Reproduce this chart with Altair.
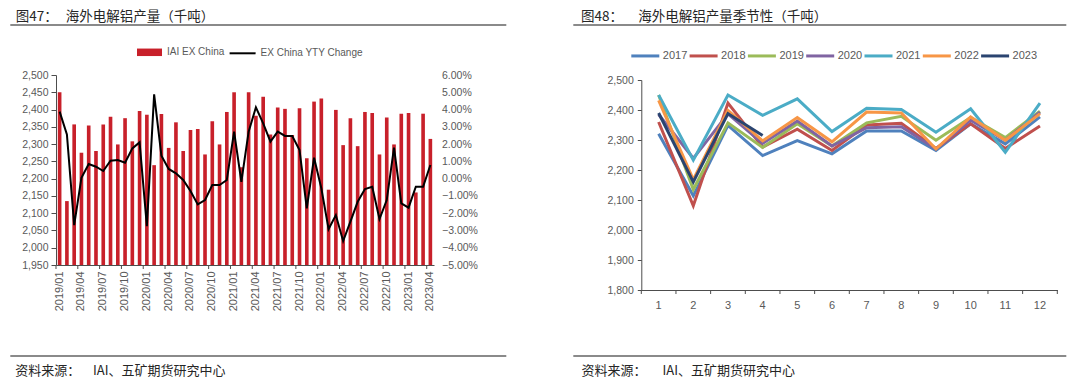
import altair as alt
import pandas as pd

# ---------------- data ----------------
months = [f"{y}/{m:02d}" for y in range(2019, 2024) for m in range(1, 13)][:52]
tick_months = months[::3]

iai_ex_china = [2450, 2135, 2357, 2275, 2354, 2280, 2357, 2379, 2299, 2375, 2308, 2396,
                2385, 2239, 2387, 2289, 2363, 2280, 2341, 2344, 2270, 2366, 2299, 2393,
                2450, 2233, 2450, 2382, 2437, 2328, 2406, 2402, 2326, 2404, 2259, 2423,
                2432, 2168, 2399, 2297, 2375, 2294, 2393, 2390, 2270, 2377, 2299, 2388,
                2390, 2160, 2388, 2315]

yoy_change_pct = [3.88, 2.56, -2.69, 0.05, 0.85, 0.69, 0.44, 1.04, 1.08, 0.92, 1.75, 2.10,
                  -2.75, 4.88, 1.33, 0.56, 0.31, -0.08, -0.72, -1.49, -1.24, -0.37, -0.37, -0.08,
                  2.72, -0.18, 2.72, 4.13, 3.20, 2.14, 2.72, 2.47, 2.47, 1.66, -1.72, 1.21,
                  -0.56, -2.92, -2.11, -3.61, -2.49, -1.34, -0.60, -0.47, -2.34, -1.24, 1.79, -1.43,
                  -1.68, -0.47, -0.47, 0.79]

season_months = list(range(1, 13))
s2017 = [2321, 2114, 2349, 2248, 2298, 2254, 2330, 2330, 2265, 2354, 2287, 2377]
s2018 = [2360, 2081, 2423, 2276, 2336, 2265, 2350, 2356, 2272, 2354, 2272, 2347]
s2019 = [2450, 2135, 2357, 2275, 2354, 2280, 2357, 2379, 2299, 2375, 2308, 2396]
s2020 = [2385, 2239, 2387, 2289, 2363, 2280, 2341, 2344, 2270, 2366, 2299, 2393]
s2021 = [2450, 2233, 2450, 2382, 2437, 2328, 2406, 2402, 2326, 2404, 2259, 2423]
s2022 = [2432, 2168, 2399, 2297, 2375, 2294, 2393, 2390, 2270, 2377, 2299, 2388]
s2023 = [2390, 2160, 2388, 2315]
years = ["2017", "2018", "2019", "2020", "2021", "2022", "2023"]
year_colors = ["#4F81BD", "#C0504D", "#9BBB59", "#8064A2", "#4BACC6", "#F79646", "#2A4470"]

left_ticks = [1950, 2000, 2050, 2100, 2150, 2200, 2250, 2300, 2350, 2400, 2450, 2500]
pct_ticks = [-0.05, -0.04, -0.03, -0.02, -0.01, 0.0, 0.01, 0.02, 0.03, 0.04, 0.05, 0.06]
right_ticks = [1800, 1900, 2000, 2100, 2200, 2300, 2400, 2500]

bar_name = "IAI EX China"
line_name = "EX China YTY Change"
title1_a, title1_b = "图47：", "海外电解铝产量（千吨）"
title2_a, title2_b = "图48：", "海外电解铝产量季节性（千吨）"
source_a, source_b = "资料来源：", "IAI、五矿期货研究中心"

# ---------------- styles ----------------
RED = "#C8202A"
AX = "#4d4d4d"
LAB = "#595959"
TXT = "#262626"
SEP = "#8a8a8a"
CJK = "Noto Sans CJK SC"

df1 = pd.DataFrame({"month": months, "prod": iai_ex_china,
                    "yoy": [v / 100 for v in yoy_change_pct]})
df1["sb"] = bar_name
df1["sl"] = line_name

rows = []
for yr, vals in zip(years, [s2017, s2018, s2019, s2020, s2021, s2022, s2023]):
    for m, v in zip(season_months, vals):
        rows.append({"year": yr, "month": m, "value": v})
df2 = pd.DataFrame(rows)

one = pd.DataFrame({"a": [0]})


def text_layer(txt, x, y, size, color=TXT, font=CJK):
    return alt.Chart(one).mark_text(align="left", baseline="middle", fontSize=size,
                                    font=font, color=color).encode(
        x=alt.value(x), y=alt.value(y), text=alt.value(txt))


def hrule(x1, x2, y, color=SEP, sw=2, opacity=1):
    return alt.Chart(one).mark_rule(color=color, strokeWidth=sw, opacity=opacity).encode(
        x=alt.value(x1), x2=alt.value(x2), y=alt.value(y))


# ---------------- left panel ----------------
W1, H1 = 378, 190
xscale1 = alt.Scale(type="band", domain=months, paddingInner=0, paddingOuter=0)
xaxis1 = alt.Axis(values=tick_months, labelAngle=270, ticks=False, labelPadding=6,
                  labelFontSize=11, title=None, domainColor=AX)

base1 = alt.Chart(df1)
bars = base1.mark_bar(width=alt.RelativeBandSize(0.5)).encode(
    x=alt.X("month:O", scale=xscale1, axis=xaxis1, title=None),
    y=alt.Y("prod:Q", scale=alt.Scale(domain=[1950, 2500], zero=False, nice=False),
            axis=alt.Axis(values=left_ticks, format=",.0f", tickSize=5, labelPadding=3,
                          labelFontSize=10.5, title=None, grid=False)),
    y2=alt.datum(1950),
    color=alt.Color("sb:N", scale=alt.Scale(domain=[bar_name], range=[RED]),
                    legend=alt.Legend(orient="none", legendX=81, legendY=-35.2, title=None,
                                      symbolType="M-1,-0.3H1V0.3H-1Z", symbolSize=625,
                                      symbolStrokeWidth=0, labelOffset=5, labelFontSize=10,
                                      padding=0)),
)
line = base1.mark_line(strokeWidth=2).encode(
    x=alt.X("month:O", scale=xscale1, axis=xaxis1, bandPosition=0.5, title=None),
    y=alt.Y("yoy:Q", scale=alt.Scale(domain=[-0.05, 0.06], zero=False, nice=False),
            axis=alt.Axis(orient="right", values=pct_ticks, format=".2%", ticks=False,
                          domain=False, labelPadding=7.5, labelFontSize=10.5, title=None,
                          grid=False)),
    stroke=alt.Stroke("sl:N", scale=alt.Scale(domain=[line_name], range=["#000000"]),
                      legend=alt.Legend(orient="none", legendX=172.6, legendY=-35.7,
                                        title=None, symbolType="stroke", symbolSize=676,
                                        symbolStrokeWidth=2, labelOffset=4,
                                        labelFontSize=10, padding=0)),
)
ticks1 = alt.Chart(pd.DataFrame({"month": tick_months})).mark_rule(color=AX, strokeWidth=1).encode(
    x=alt.X("month:O", scale=xscale1, axis=xaxis1, bandPosition=0, title=None),
    y=alt.value(H1), y2=alt.value(H1 + 4))

SRC_Y = 296     # source line centre (relative to plot top)
RULE_Y = 281
TITLE_Y = -58.3
TITLE_FS = 13.5

left = alt.layer(
    bars, line, ticks1,
    hrule(-47.7, -46.7, -67, opacity=0),
    hrule(-45.7, 450.3, -50),
    hrule(-45.7, 450.3, RULE_Y),
    text_layer(title1_a, -40.2, TITLE_Y, TITLE_FS),
    text_layer(title1_b, 9.7, TITLE_Y, TITLE_FS),
    text_layer(source_a, -40.7, SRC_Y, 13),
    text_layer(source_b, 37, SRC_Y, 13),
).resolve_scale(y="independent").properties(width=W1, height=H1)

# ---------------- right panel ----------------
W2, H2 = 416, 215
xscale2 = alt.Scale(type="band", domain=season_months, paddingInner=0, paddingOuter=0)
xaxis2 = alt.Axis(ticks=False, labelAngle=0, labelPadding=9.5, labelFontSize=11,
                  title=None, domainColor=AX)

lines2 = alt.Chart(df2).mark_line(strokeWidth=3).encode(
    x=alt.X("month:O", scale=xscale2, axis=xaxis2, bandPosition=0.5, title=None),
    y=alt.Y("value:Q", scale=alt.Scale(domain=[1800, 2500], range=[H2, 5], zero=False, nice=False),
            axis=alt.Axis(values=right_ticks, format=",.0f", tickSize=4, labelPadding=4,
                          labelFontSize=10.5, title=None, grid=False)),
    color=alt.Color("year:N", scale=alt.Scale(domain=years, range=year_colors),
                    legend=alt.Legend(orient="none", legendX=-11.5, legendY=-34.8,
                                      direction="horizontal", columns=7, title=None,
                                      symbolType="stroke", symbolSize=784,
                                      symbolStrokeWidth=3, labelOffset=2,
                                      columnPadding=-4.7, labelFontSize=11, padding=0)),
)
ticks2 = alt.Chart(pd.DataFrame({"month": season_months})).mark_rule(color=AX, strokeWidth=1).encode(
    x=alt.X("month:O", scale=xscale2, axis=xaxis2, bandPosition=0, title=None),
    y=alt.value(H2), y2=alt.value(H2 + 4))
ticks2_end = alt.Chart(pd.DataFrame({"month": season_months[-1:]})).mark_rule(color=AX, strokeWidth=1).encode(
    x=alt.X("month:O", scale=xscale2, axis=xaxis2, bandPosition=1, title=None),
    y=alt.value(H2), y2=alt.value(H2 + 4))

right = alt.layer(
    lines2, ticks2, ticks2_end,
    hrule(-68, 425, -50),
    hrule(-68, 425, RULE_Y),
    text_layer(title2_a, -60.4, TITLE_Y, TITLE_FS),
    text_layer(title2_b, -3, TITLE_Y, TITLE_FS),
    text_layer(source_a, -59.7, SRC_Y, 13),
    text_layer(source_b, 21.2, SRC_Y, 13),
).properties(width=W2, height=H2)

chart = alt.hconcat(left, right, spacing=207.3, bounds="flush").resolve_scale(
    color="independent", stroke="independent"
).resolve_legend(
    color="independent", stroke="independent"
).properties(
    padding=0
).configure_view(stroke=None).configure_axis(
    labelFont="Liberation Sans", labelColor=LAB, domainColor=AX, tickColor=AX, grid=False
).configure_legend(labelFont="Liberation Sans", labelColor=LAB)

chart.save("out.html", embed_options={"renderer": "svg", "actions": False})
